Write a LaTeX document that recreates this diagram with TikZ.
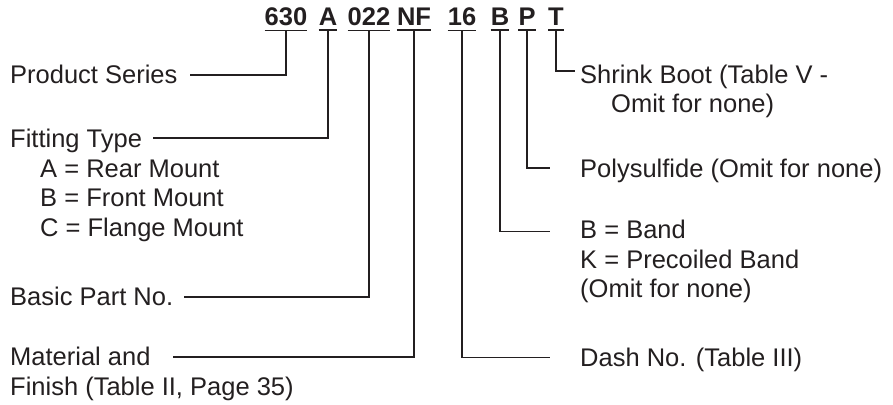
\documentclass[tikz,border=0pt]{standalone}
\usepackage{fontspec}
\setmainfont{Liberation Sans}
\definecolor{ink}{HTML}{231F20}
\begin{document}
\begin{tikzpicture}[x=1pt,y=-1pt,
  lbl/.style={anchor=base west,inner sep=0pt,font=\fontsize{25.5}{29.5}\selectfont,text=ink},
  code/.style={anchor=base,inner sep=0pt,font=\fontsize{25.5}{29.5}\selectfont\bfseries,text=ink},
  conn/.style={draw=ink,line width=1.8pt},
  uline/.style={draw=ink,line width=1.8pt},
]
\useasboundingbox (0,0) rectangle (893,404);
% code letters
\node[code] (c630) at (286,26) {630};
\node[code] (cA)   at (328,26) {A};
\node[code] (c022) at (369,26) {022};
\node[code] (cNF)  at (414,26) {NF};
\node[code] (c16)  at (462,26) {16};
\node[code] (cB)   at (500,26) {B};
\node[code] (cP)   at (527,26) {P};
\node[code] (cT)   at (556,26) {T};
\foreach \n in {c630,cA,c022,cNF,c16,cB,cP,cT}
  \draw[uline] ([yshift=-4pt]\n.south west) -- ([yshift=-4pt]\n.south east);
% left labels
\node[lbl] (ps) at (10,83.5) {Product Series};
\node[lbl] (ft) at (10,147) {Fitting Type};
\node[lbl] (fa) at (40,177) {A = Rear Mount};
\node[lbl] (fb) at (40,206.5) {B = Front Mount};
\node[lbl] (fc) at (40,236) {C = Flange Mount};
\node[lbl] (bp) at (10,305.5) {Basic Part No.};
\node[lbl] (ma) at (10,365.5) {Material and};
\node[lbl] (mf) at (10,395) {Finish (Table II, Page 35)};
% right labels
\node[lbl] (sb)  at (580,83) {Shrink Boot (Table V -};
\node[lbl] (sb2) at (611,112.8) {Omit for none)};
\node[lbl] (po)  at (580,177) {Polysulfide (Omit for none)};
\node[lbl] (bb)  at (580,238.5) {B = Band};
\node[lbl] (bk)  at (580,268) {K = Precoiled Band};
\node[lbl] (bo)  at (580,297.5) {(Omit for none)};
\node[lbl] (dn)  at (580,366) {Dash No. (Table III)};
% connector ends
\coordinate (eps) at (190,75);
\coordinate (eft) at (153,138.3);
\coordinate (ebp) at (184,296.7);
\coordinate (ema) at (173,357);
\coordinate (edn) at (550,357.5);
\coordinate (ebb) at (550,231.5);
\coordinate (epo) at (550,168.3);
\coordinate (esb) at (575,71);
% connectors
\draw[conn] ([yshift=-4pt]c630.south) |- (eps);
\draw[conn] ([yshift=-4pt]cA.south) |- (eft);
\draw[conn] ([yshift=-4pt]c022.south) |- (ebp);
\draw[conn] ([yshift=-4pt]cNF.south) |- (ema);
\draw[conn] ([yshift=-4pt]c16.south) |- (edn);
\draw[conn] ([yshift=-4pt]cB.south) |- (ebb);
\draw[conn] ([yshift=-4pt]cP.south) |- (epo);
\draw[conn] ([yshift=-4pt]cT.south) |- (esb);
\end{tikzpicture}
\end{document}
